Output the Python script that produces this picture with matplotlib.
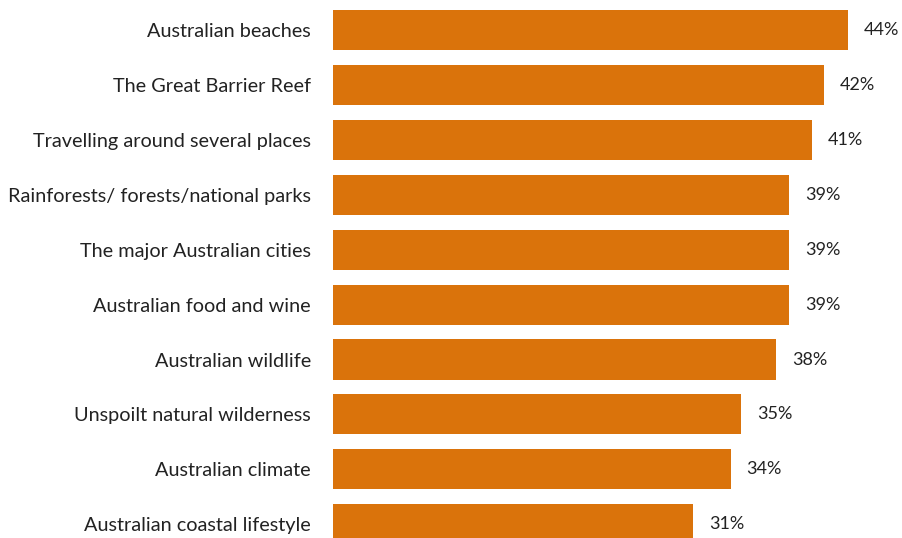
import matplotlib
matplotlib.use('Agg')
import matplotlib.pyplot as plt

categories = ['Australian beaches', 'The Great Barrier Reef', 'Travelling around several places',
              'Rainforests/ forests/national parks', 'The major Australian cities',
              'Australian food and wine', 'Australian wildlife', 'Unspoilt natural wilderness',
              'Australian climate', 'Australian coastal lifestyle']
values = [44.0, 42.0, 40.9, 39.0, 39.0, 39.0, 37.9, 34.9, 34.0, 30.8]
labels = ['44%', '42%', '41%', '39%', '39%', '39%', '38%', '35%', '34%', '31%']

plt.rcParams['font.family'] = ['Lato', 'DejaVu Sans']

fig = plt.figure(figsize=(9.02, 5.38), dpi=100)
ax = fig.add_axes([333/902, 0, 1 - 333/902, 1])

pos = list(range(len(categories)))
ax.barh(pos, values, height=0.73, color='#DA730B')
for p, v, t in zip(pos, values, labels):
    ax.text(v + 1.35, p, t, va='center', ha='left', fontsize=13, color='#222222')

ax.set_xlim(0, 569/11.7)
ax.set_ylim(9.25, -0.546)
ax.set_yticks(pos)
ax.set_yticklabels(categories, fontsize=14.3, color='#222222')
ax.tick_params(axis='y', length=0, pad=16)
ax.set_xticks([])
for s in ax.spines.values():
    s.set_visible(False)

plt.savefig('out.png', dpi=100)
